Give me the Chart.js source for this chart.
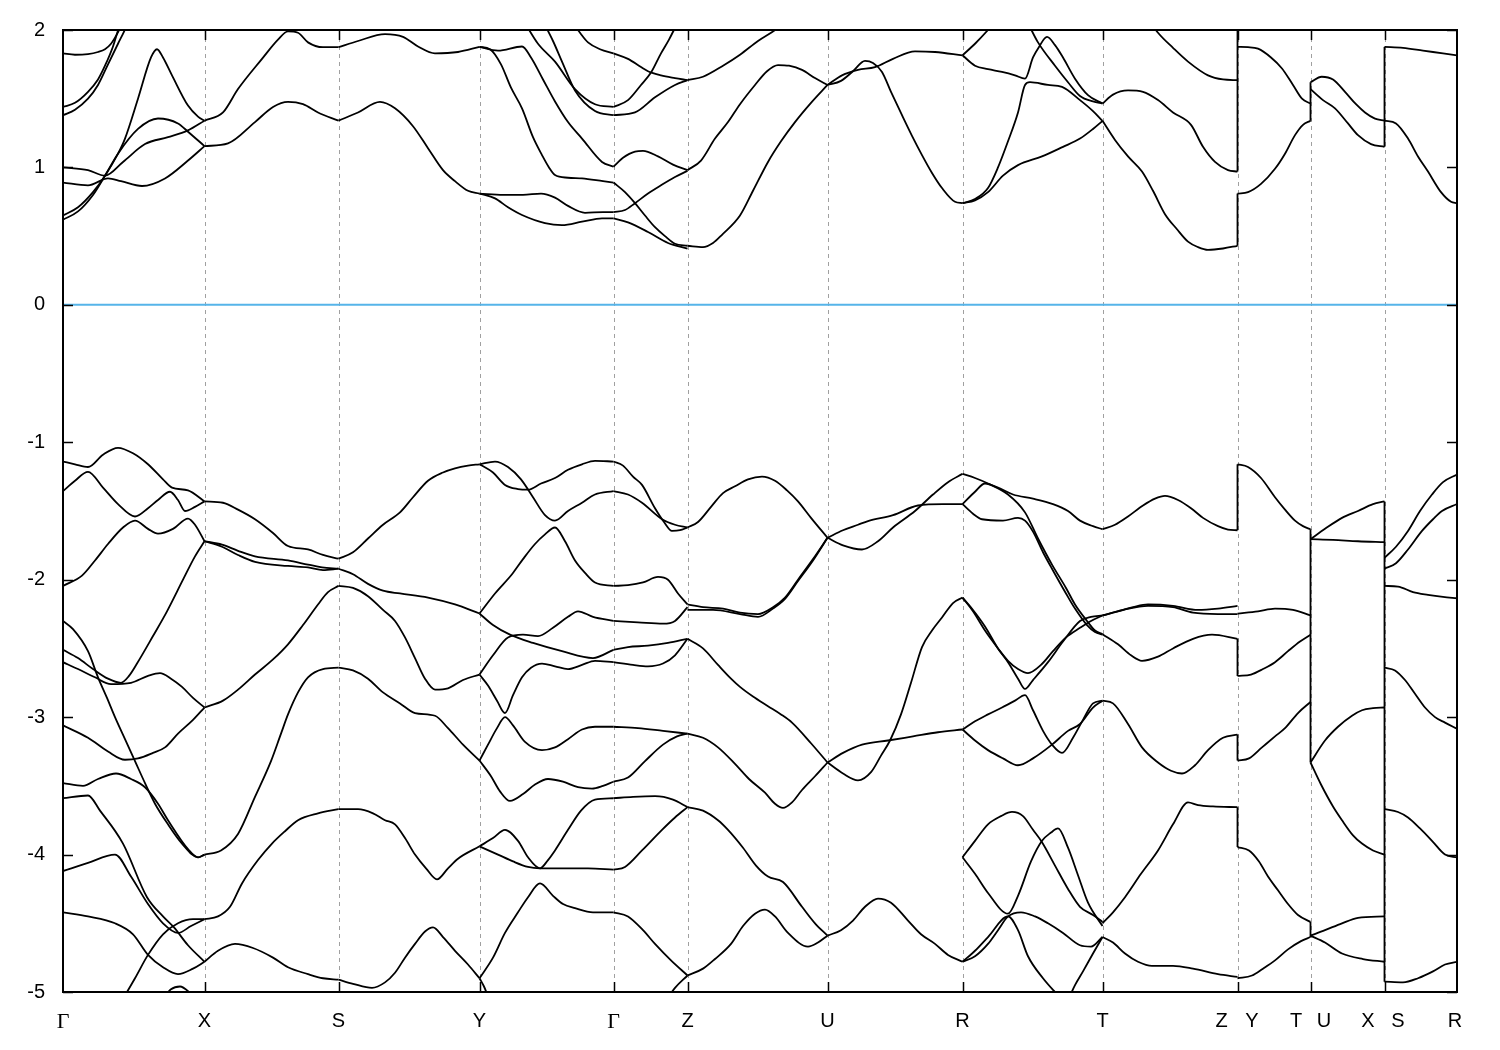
<!DOCTYPE html>
<html>
<head>
<meta charset="utf-8">
<title>Band structure</title>
<script src="https://cdn.jsdelivr.net/npm/chart.js@4.4.1/dist/chart.umd.min.js"></script>
<style>
  html, body { margin: 0; padding: 0; background: #fff; }
  canvas { display: block; }
</style>
</head>
<body>
<canvas id="bands" width="1500" height="1050"></canvas>
<script>
// high-symmetry points along the k-path (path length units)
const kPoints = [0, 141.5, 275.5, 416.5, 550.5, 624.5, 764.5, 899.5, 1039.5, 1174.5, 1247.5, 1321.5, 1394];
// tick labels; the labels at the jumps Z|Y, T|U, X|S sit either side of the line
const labelPos  = [0, 141.5, 275.5, 416.5, 550.5, 624.5, 764.5, 899.5, 1039.5, 1158.5, 1189, 1233, 1261, 1305, 1335, 1392];
const labelText = ['Γ', 'X', 'S', 'Y', 'Γ', 'Z', 'U', 'R', 'T', 'Z', 'Y', 'T', 'U', 'X', 'S', 'R'];
const energyTicks = [2, 1, 0, -1, -2, -3, -4, -5];
const fermiLevel = 0;

// ---- conduction bands, one list of [k, E] curves per path segment ----
const cbGX = [
  [[0,1.83],[12,1.82],[25,1.825],[35,1.84],[42,1.86],[48,1.9],[54,1.97],[60,2.06]],
  [[0,1.44],[12,1.47],[25,1.55],[35,1.64],[42,1.74],[50,1.88],[56,2.02],[60,2.1]],
  [[0,1.38],[12,1.42],[25,1.5],[35,1.6],[45,1.75],[55,1.9],[63,2.02],[67,2.1]],
  [[0,1.0],[25,0.98],[42,0.94],[60,1.04],[82,1.17],[105,1.22],[125,1.27],[141.5,1.34]],
  [[0,0.89],[25,0.87],[45,0.92],[58,0.9],[79,0.865],[102,0.92],[125,1.05],[141.5,1.155]],
  [[0,0.65],[15,0.71],[30,0.82],[42,0.94],[55,1.1],[62,1.21],[75,1.5],[88,1.8],[94,1.86],[100,1.8],[109,1.67],[125,1.45],[135,1.37],[141.5,1.34]],
  [[0,0.62],[15,0.68],[30,0.8],[42,0.94],[55,1.1],[75,1.28],[95,1.356],[115,1.32],[125,1.26],[141.5,1.155]]
];
const cbXS = [
  [[141.5,1.34],[160,1.4],[175,1.57],[199,1.79],[215,1.93],[225,1.99],[235,1.98],[245,1.91],[260,1.875],[275.5,1.875]],
  [[141.5,1.155],[165,1.175],[192,1.33],[210,1.44],[225,1.477],[240,1.46],[255,1.4],[275.5,1.34]]
];
const cbSY = [
  [[275.5,1.875],[295,1.92],[322,1.97],[340,1.95],[355,1.88],[372,1.83],[395,1.84],[416.5,1.877]],
  [[275.5,1.34],[295,1.4],[317,1.477],[332,1.43],[350,1.3],[365,1.14],[380,0.98],[392,0.9],[405,0.83],[416.5,0.81]]
];
const cbYG = [
  [[462,2.05],[475,1.9],[492,1.77],[512,1.57],[532,1.46],[550.5,1.44]],
  [[481,2.05],[490,1.92],[499,1.77],[512,1.56],[532,1.41],[550.5,1.38]],
  [[416.5,1.877],[435,1.85],[459,1.88],[468,1.8],[480,1.64],[492,1.48],[505,1.33],[519,1.21],[539,1.04],[550.5,1.005]],
  [[510,2.05],[517,1.98],[525,1.91],[537,1.86],[550.5,1.83]],
  [[416.5,1.877],[427,1.86],[438,1.75],[448,1.58],[459,1.43],[470,1.22],[479,1.09],[486,1.0],[492,0.945],[505,0.925],[519,0.92],[540,0.9],[550.5,0.89]],
  [[416.5,0.81],[440,0.8],[460,0.8],[478,0.81],[492,0.78],[505,0.72],[522,0.67],[540,0.675],[550.5,0.675]],
  [[416.5,0.81],[432,0.775],[445,0.71],[459,0.654],[482,0.595],[499,0.58],[519,0.605],[539,0.63],[550.5,0.63]]
];
const cbGZ = [
  [[550.5,1.83],[565,1.79],[578,1.73],[585,1.7],[598,1.67],[612,1.65],[624.5,1.635]],
  [[550.5,1.44],[565,1.49],[578,1.6],[588,1.69],[598,1.83],[606,1.93],[613,2.03]],
  [[550.5,1.38],[572,1.4],[592,1.51],[612,1.6],[624.5,1.635]],
  [[550.5,1.005],[560,1.07],[572,1.115],[580,1.12],[595,1.08],[610,1.02],[624.5,0.98]],
  [[550.5,0.89],[562,0.82],[572,0.74],[582,0.65],[592,0.565],[602,0.5],[612,0.445],[624.5,0.43]],
  [[550.5,0.675],[562,0.69],[572,0.74],[585,0.81],[598,0.87],[612,0.93],[624.5,0.975]],
  [[550.5,0.63],[565,0.6],[585,0.53],[605,0.45],[624.5,0.41]]
];
const cbZU = [
  [[624.5,1.635],[640,1.66],[660,1.74],[677,1.82],[695,1.92],[714,2.01],[720,2.05]],
  [[624.5,0.98],[638,1.05],[652,1.21],[665,1.33],[677,1.46],[692,1.6],[704,1.7],[715,1.745],[726,1.74],[739,1.71],[752,1.65],[764.5,1.6]],
  [[624.5,0.43],[640,0.42],[650,0.45],[659,0.51],[677,0.65],[690,0.83],[705,1.04],[718,1.19],[732,1.33],[748,1.47],[764.5,1.6]]
];
const cbUR = [
  [[764.5,1.6],[778,1.63],[790,1.7],[802,1.775],[810,1.76],[819,1.695],[828,1.55],[839,1.38],[849,1.23],[859,1.09],[869,0.96],[879,0.85],[892,0.75],[899.5,0.74]],
  [[764.5,1.6],[779,1.67],[795,1.71],[812,1.73],[830,1.79],[852,1.845],[872,1.84],[899.5,1.815]]
];
const cbRT = [
  [[899.5,1.816],[912,1.9],[925,2.0],[932,2.06]],
  [[899.5,1.816],[912,1.74],[925,1.715],[939,1.695],[952,1.67],[962,1.646],[970,1.8],[976,1.877],[984,1.95],[992,1.89],[1000,1.8],[1012,1.646],[1025,1.526],[1039.5,1.465]],
  [[965,2.05],[975,1.91],[992,1.74],[1005,1.62],[1017,1.52],[1030,1.48],[1039.5,1.465]],
  [[899.5,0.74],[912,0.77],[925,0.85],[935,1.0],[945,1.19],[955,1.4],[962,1.6],[967,1.62],[985,1.6],[999,1.586],[1017,1.49],[1030,1.41],[1039.5,1.339]],
  [[899.5,0.74],[912,0.76],[925,0.82],[940,0.94],[955,1.017],[979,1.08],[1000,1.15],[1017,1.21],[1030,1.28],[1039.5,1.339]]
];
const cbTZ = [
  [[1039.5,1.465],[1050,1.53],[1065,1.56],[1080,1.55],[1095,1.49],[1110,1.4],[1128,1.31],[1140,1.15],[1152,1.04],[1165,0.98],[1174.5,0.97]],
  [[1039.5,1.339],[1052,1.2],[1065,1.08],[1079,0.97],[1090,0.83],[1102,0.66],[1114,0.55],[1125,0.46],[1135,0.42],[1145,0.4],[1160,0.41],[1174.5,0.43]],
  [[1088,2.05],[1095,1.98],[1110,1.87],[1125,1.77],[1145,1.67],[1160,1.64],[1174.5,1.635]]
];
const cbYT = [
  [[1174.5,1.877],[1185,1.875],[1195,1.864],[1208,1.8],[1219,1.72],[1230,1.6],[1239,1.5],[1247.5,1.465]],
  [[1174.5,0.81],[1185,0.82],[1198,0.88],[1212,0.99],[1222,1.1],[1232,1.235],[1240,1.31],[1247.5,1.339]]
];
const cbUX = [
  [[1247.5,1.62],[1258.7,1.66],[1270,1.64],[1282,1.55],[1293,1.46],[1302,1.4],[1312,1.355],[1321.5,1.34]],
  [[1247.5,1.57],[1260,1.49],[1272,1.43],[1285,1.32],[1295,1.235],[1308,1.17],[1321.5,1.15]]
];
const cbSR = [
  [[1321.5,1.877],[1340,1.87],[1360,1.85],[1380,1.83],[1394,1.816]],
  [[1321.5,1.34],[1333,1.32],[1345,1.21],[1355,1.08],[1365,0.97],[1378,0.82],[1388,0.75],[1394,0.74]]
];

// ---- valence bands ----
const vbGX = [
  [[0,-1.14],[12,-1.16],[25,-1.18],[40,-1.09],[55,-1.04],[70,-1.08],[85,-1.16],[100,-1.27],[109,-1.33],[125,-1.35],[141.5,-1.43]],
  [[0,-1.355],[12,-1.28],[25,-1.215],[40,-1.33],[55,-1.45],[72,-1.54],[85,-1.48],[95,-1.42],[107,-1.36],[115,-1.42],[122,-1.5],[132,-1.47],[141.5,-1.43]],
  [[0,-2.045],[19,-1.97],[32,-1.86],[45,-1.74],[60,-1.62],[72,-1.57],[85,-1.63],[95,-1.665],[110,-1.63],[125,-1.555],[132,-1.6],[141.5,-1.72]],
  [[0,-2.51],[15,-2.57],[30,-2.65],[45,-2.72],[58,-2.75],[66,-2.7],[74,-2.61],[90,-2.41],[104,-2.23],[120,-2.0],[132,-1.83],[141.5,-1.72]],
  [[0,-2.6],[15,-2.65],[32,-2.71],[48,-2.76],[68,-2.75],[85,-2.7],[97,-2.68],[108,-2.72],[119,-2.78],[130,-2.86],[141.5,-2.93]],
  [[0,-2.3],[10,-2.36],[25,-2.52],[35,-2.71],[44,-2.86],[52,-3.0],[62,-3.16],[72,-3.32],[82,-3.48],[92,-3.63],[105,-3.78],[119,-3.92],[135,-4.02],[141.5,-4.0]],
  [[0,-3.06],[25,-3.15],[45,-3.25],[62,-3.31],[75,-3.3],[90,-3.26],[102,-3.22],[115,-3.12],[130,-3.02],[141.5,-2.93]],
  [[0,-3.48],[20,-3.5],[35,-3.45],[53,-3.41],[68,-3.45],[82,-3.51],[95,-3.63],[105,-3.75],[125,-3.96],[135,-4.02],[141.5,-4.0]],
  [[0,-3.59],[25,-3.57],[37,-3.68],[60,-3.92],[84,-4.31],[100,-4.45],[111,-4.53],[125,-4.66],[141.5,-4.78]],
  [[0,-4.12],[25,-4.06],[52,-4.0],[68,-4.16],[85,-4.36],[100,-4.5],[115,-4.57],[128,-4.52],[141.5,-4.47]],
  [[0,-4.42],[25,-4.45],[52,-4.5],[70,-4.58],[85,-4.73],[100,-4.82],[115,-4.87],[130,-4.83],[141.5,-4.78]],
  [[60,-5.05],[72,-4.9],[85,-4.73],[100,-4.58],[115,-4.5],[130,-4.47],[141.5,-4.47]],
  [[100,-5.05],[108,-4.98],[117,-4.96],[126,-5.0],[132,-5.05]]
];
const vbXS = [
  [[141.5,-1.43],[160,-1.44],[175,-1.49],[192,-1.56],[210,-1.66],[225,-1.755],[245,-1.78],[260,-1.82],[275.5,-1.847]],
  [[141.5,-1.72],[159,-1.745],[175,-1.79],[192,-1.83],[225,-1.86],[245,-1.89],[259,-1.91],[275.5,-1.92]],
  [[141.5,-1.72],[159,-1.76],[175,-1.82],[192,-1.87],[225,-1.9],[245,-1.91],[260,-1.93],[275.5,-1.92]],
  [[141.5,-2.93],[160,-2.88],[175,-2.8],[192,-2.69],[210,-2.58],[225,-2.47],[240,-2.33],[255,-2.18],[265,-2.09],[275.5,-2.045]],
  [[141.5,-4.0],[158,-3.97],[175,-3.85],[192,-3.58],[208,-3.32],[218,-3.12],[225,-2.98],[235,-2.82],[245,-2.71],[260,-2.65],[275.5,-2.64]],
  [[141.5,-4.47],[155,-4.45],[167,-4.38],[179,-4.21],[195,-4.04],[209,-3.92],[222,-3.83],[235,-3.75],[255,-3.7],[275.5,-3.67]],
  [[141.5,-4.78],[155,-4.7],[172,-4.65],[190,-4.68],[210,-4.75],[225,-4.82],[245,-4.87],[260,-4.9],[275.5,-4.91]]
];
const vbSY = [
  [[275.5,-1.847],[290,-1.8],[305,-1.7],[320,-1.6],[337,-1.51],[350,-1.4],[365,-1.28],[380,-1.22],[392,-1.19],[405,-1.17],[416.5,-1.16]],
  [[275.5,-1.92],[290,-1.96],[305,-2.03],[320,-2.08],[337,-2.1],[365,-2.13],[392,-2.18],[416.5,-2.246]],
  [[275.5,-2.045],[290,-2.06],[305,-2.12],[320,-2.22],[332,-2.3],[342,-2.42],[352,-2.57],[362,-2.72],[372,-2.8],[385,-2.79],[400,-2.73],[416.5,-2.69]],
  [[275.5,-2.64],[290,-2.66],[305,-2.72],[320,-2.82],[337,-2.9],[352,-2.97],[372,-2.99],[385,-3.08],[400,-3.2],[416.5,-3.316]],
  [[275.5,-3.67],[295,-3.67],[310,-3.7],[322,-3.75],[332,-3.78],[342,-3.88],[352,-4.0],[363,-4.1],[374,-4.18],[385,-4.1],[395,-4.03],[416.5,-3.94]],
  [[275.5,-4.91],[290,-4.94],[309,-4.97],[322,-4.93],[332,-4.86],[342,-4.75],[352,-4.65],[362,-4.56],[370,-4.53],[380,-4.6],[392,-4.7],[405,-4.8],[416.5,-4.9]]
];
const vbYG = [
  [[416.5,-1.16],[432,-1.14],[445,-1.18],[458,-1.27],[470,-1.4],[482,-1.53],[492,-1.57],[505,-1.5],[519,-1.44],[532,-1.38],[550.5,-1.355]],
  [[416.5,-1.16],[430,-1.22],[442,-1.31],[455,-1.34],[465,-1.345],[478,-1.3],[492,-1.26],[505,-1.2],[519,-1.16],[532,-1.135],[550.5,-1.14]],
  [[416.5,-2.246],[432,-2.1],[449,-1.96],[460,-1.85],[472,-1.74],[482,-1.67],[492,-1.62],[502,-1.72],[512,-1.86],[522,-1.95],[532,-2.02],[550.5,-2.045]],
  [[416.5,-2.246],[430,-2.33],[447,-2.4],[470,-2.46],[499,-2.52],[530,-2.57],[550.5,-2.51]],
  [[416.5,-2.69],[430,-2.55],[445,-2.42],[460,-2.4],[475,-2.41],[490,-2.35],[505,-2.27],[515,-2.23],[530,-2.27],[550.5,-2.3]],
  [[416.5,-2.69],[425,-2.77],[434,-2.88],[442,-2.97],[450,-2.84],[459,-2.71],[468,-2.64],[479,-2.61],[492,-2.63],[505,-2.65],[519,-2.62],[532,-2.59],[550.5,-2.6]],
  [[416.5,-3.316],[425,-3.2],[434,-3.08],[442,-3.0],[450,-3.06],[462,-3.18],[479,-3.24],[492,-3.22],[505,-3.16],[519,-3.09],[532,-3.07],[550.5,-3.07]],
  [[416.5,-3.316],[428,-3.43],[437,-3.54],[447,-3.61],[460,-3.56],[472,-3.49],[485,-3.45],[500,-3.47],[515,-3.51],[529,-3.52],[540,-3.5],[550.5,-3.47]],
  [[416.5,-3.94],[430,-3.88],[442,-3.82],[455,-3.9],[465,-4.02],[477,-4.1],[485,-4.04],[492,-3.97],[505,-3.82],[518,-3.68],[532,-3.6],[550.5,-3.59]],
  [[416.5,-3.94],[435,-4.0],[450,-4.05],[465,-4.09],[477,-4.1],[500,-4.1],[525,-4.1],[550.5,-4.11]],
  [[416.5,-4.9],[430,-4.75],[442,-4.57],[455,-4.42],[465,-4.31],[477,-4.21],[490,-4.3],[500,-4.36],[512,-4.39],[530,-4.42],[550.5,-4.42]],
  [[416.5,-4.9],[421,-4.96],[426,-5.05]]
];
const vbGZ = [
  [[550.5,-1.14],[560,-1.17],[570,-1.25],[579,-1.31],[592,-1.48],[601,-1.58],[609,-1.645],[617,-1.64],[624.5,-1.62]],
  [[550.5,-1.355],[565,-1.38],[579,-1.44],[599,-1.56],[612,-1.6],[624.5,-1.62]],
  [[550.5,-2.045],[565,-2.04],[580,-2.02],[595,-1.98],[605,-2.0],[615,-2.1],[624.5,-2.18]],
  [[550.5,-2.3],[575,-2.31],[600,-2.32],[612,-2.3],[624.5,-2.2]],
  [[550.5,-2.51],[565,-2.49],[585,-2.48],[605,-2.46],[624.5,-2.43]],
  [[550.5,-2.6],[570,-2.62],[585,-2.63],[600,-2.61],[612,-2.55],[624.5,-2.43]],
  [[550.5,-3.07],[575,-3.08],[600,-3.1],[624.5,-3.12]],
  [[550.5,-3.47],[565,-3.44],[582,-3.32],[600,-3.2],[614,-3.14],[624.5,-3.12]],
  [[550.5,-3.59],[570,-3.58],[592,-3.575],[610,-3.6],[624.5,-3.655]],
  [[550.5,-4.11],[562,-4.09],[579,-3.97],[599,-3.82],[612,-3.73],[624.5,-3.655]],
  [[550.5,-4.42],[565,-4.45],[580,-4.55],[592,-4.65],[608,-4.77],[624.5,-4.88]],
  [[604,-5.05],[612,-4.97],[624.5,-4.88]]
];
const vbZU = [
  [[624.5,-1.62],[635,-1.58],[648,-1.47],[660,-1.37],[672,-1.32],[685,-1.27],[699,-1.25],[712,-1.28],[724,-1.35],[735,-1.43],[748,-1.55],[764.5,-1.695]],
  [[624.5,-2.18],[640,-2.2],[660,-2.21],[677,-2.24],[695,-2.25],[710,-2.2],[722,-2.13],[735,-2.0],[750,-1.85],[764.5,-1.695]],
  [[624.5,-2.22],[650,-2.22],[677,-2.25],[695,-2.27],[710,-2.21],[722,-2.14],[735,-2.01],[750,-1.86],[764.5,-1.695]],
  [[624.5,-2.43],[640,-2.5],[655,-2.62],[668,-2.72],[677,-2.78],[690,-2.85],[705,-2.92],[718,-2.98],[729,-3.04],[748,-3.19],[764.5,-3.33]],
  [[624.5,-3.12],[640,-3.15],[655,-3.22],[672,-3.34],[686,-3.45],[702,-3.55],[712,-3.63],[720,-3.66],[729,-3.62],[739,-3.53],[752,-3.43],[764.5,-3.33]],
  [[624.5,-3.655],[640,-3.68],[655,-3.75],[665,-3.82],[680,-3.95],[693,-4.08],[705,-4.16],[720,-4.2],[739,-4.38],[752,-4.5],[764.5,-4.59]],
  [[624.5,-4.88],[640,-4.83],[652,-4.76],[668,-4.65],[680,-4.52],[692,-4.43],[702,-4.4],[712,-4.45],[725,-4.57],[745,-4.67],[755,-4.64],[764.5,-4.59]]
];
const vbUR = [
  [[764.5,-1.695],[780,-1.64],[795,-1.6],[805,-1.573],[830,-1.53],[855,-1.46],[880,-1.45],[899.5,-1.45]],
  [[764.5,-1.695],[780,-1.75],[799,-1.78],[815,-1.72],[830,-1.62],[852,-1.5],[870,-1.38],[885,-1.29],[899.5,-1.23]],
  [[764.5,-3.33],[780,-3.26],[799,-3.2],[825,-3.17],[850,-3.14],[875,-3.11],[899.5,-3.09]],
  [[764.5,-3.33],[780,-3.41],[795,-3.46],[808,-3.4],[818,-3.28],[827,-3.17],[838,-2.98],[848,-2.75],[859,-2.49],[869,-2.37],[879,-2.275],[890,-2.17],[899.5,-2.13]],
  [[764.5,-4.59],[778,-4.55],[790,-4.48],[802,-4.38],[815,-4.32],[828,-4.35],[845,-4.48],[858,-4.58],[872,-4.65],[885,-4.73],[899.5,-4.78]]
];
const vbRT = [
  [[899.5,-1.23],[912,-1.26],[925,-1.3],[945,-1.38],[962,-1.51],[975,-1.7],[989,-1.89],[1003,-2.06],[1012,-2.18],[1024,-2.3],[1032,-2.37],[1039.5,-2.396]],
  [[899.5,-1.45],[910,-1.52],[919,-1.56],[940,-1.57],[955,-1.55],[962,-1.57],[970,-1.65],[980,-1.8],[989,-1.92],[1003,-2.1],[1012,-2.21],[1024,-2.33],[1032,-2.38],[1039.5,-2.4]],
  [[899.5,-1.45],[912,-1.36],[922,-1.3],[935,-1.33],[950,-1.38],[970,-1.41],[990,-1.45],[1005,-1.5],[1017,-1.57],[1030,-1.61],[1039.5,-1.633]],
  [[899.5,-2.13],[910,-2.23],[922,-2.37],[935,-2.5],[945,-2.59],[955,-2.65],[965,-2.68],[978,-2.62],[990,-2.52],[1003,-2.42],[1017,-2.35],[1028,-2.3],[1039.5,-2.26]],
  [[899.5,-2.13],[910,-2.22],[922,-2.34],[935,-2.5],[945,-2.6],[955,-2.72],[962,-2.795],[970,-2.73],[985,-2.6],[1000,-2.45],[1017,-2.3],[1028,-2.27],[1039.5,-2.26]],
  [[899.5,-3.09],[912,-3.03],[925,-2.98],[939,-2.93],[952,-2.88],[962,-2.84],[970,-2.95],[980,-3.1],[989,-3.2],[999,-3.26],[1010,-3.15],[1020,-3.02],[1030,-2.9],[1039.5,-2.88]],
  [[899.5,-3.09],[912,-3.17],[925,-3.24],[940,-3.3],[955,-3.35],[970,-3.3],[989,-3.2],[1005,-3.1],[1017,-3.05],[1030,-2.93],[1039.5,-2.88]],
  [[899.5,-4.02],[912,-3.9],[925,-3.78],[938,-3.72],[949,-3.69],[960,-3.72],[970,-3.82],[979,-3.91],[992,-4.08],[1005,-4.25],[1017,-4.38],[1030,-4.44],[1039.5,-4.49]],
  [[899.5,-4.02],[912,-4.14],[925,-4.28],[945,-4.43],[955,-4.3],[968,-4.05],[979,-3.9],[988,-3.84],[995,-3.81],[1005,-3.95],[1015,-4.15],[1025,-4.35],[1039.5,-4.52]],
  [[899.5,-4.78],[912,-4.74],[925,-4.65],[935,-4.55],[945,-4.45],[958,-4.42],[972,-4.45],[985,-4.5],[1000,-4.57],[1017,-4.66],[1028,-4.67],[1039.5,-4.6]],
  [[899.5,-4.78],[912,-4.7],[925,-4.6],[945,-4.45],[955,-4.55],[965,-4.74],[980,-4.9],[992,-5.0],[1000,-5.06]],
  [[1005,-5.06],[1012,-4.95],[1020,-4.85],[1030,-4.72],[1039.5,-4.6]]
];
const vbTZ = [
  [[1039.5,-1.633],[1052,-1.6],[1065,-1.54],[1080,-1.46],[1092,-1.41],[1102,-1.39],[1115,-1.42],[1128,-1.48],[1140,-1.55],[1155,-1.61],[1165,-1.635],[1174.5,-1.64]],
  [[1039.5,-2.26],[1055,-2.23],[1070,-2.2],[1085,-2.18],[1110,-2.19],[1135,-2.22],[1155,-2.21],[1174.5,-2.19]],
  [[1039.5,-2.26],[1060,-2.22],[1085,-2.19],[1110,-2.2],[1130,-2.24],[1155,-2.25],[1174.5,-2.25]],
  [[1039.5,-2.396],[1055,-2.47],[1068,-2.55],[1079,-2.59],[1095,-2.56],[1110,-2.5],[1130,-2.43],[1149,-2.4],[1174.5,-2.43]],
  [[1039.5,-2.88],[1050,-2.9],[1065,-3.05],[1079,-3.22],[1095,-3.33],[1108,-3.39],[1119,-3.41],[1132,-3.35],[1145,-3.24],[1160,-3.15],[1174.5,-3.127]],
  [[1039.5,-4.5],[1050,-4.42],[1062,-4.31],[1078,-4.14],[1095,-3.97],[1110,-3.78],[1125,-3.62],[1135,-3.64],[1150,-3.65],[1174.5,-3.655]],
  [[1039.5,-4.6],[1050,-4.64],[1062,-4.72],[1075,-4.78],[1089,-4.81],[1110,-4.81],[1130,-4.83],[1155,-4.87],[1174.5,-4.89]]
];
const vbYT = [
  [[1174.5,-1.16],[1185,-1.18],[1198,-1.26],[1212,-1.4],[1222,-1.49],[1232,-1.57],[1240,-1.61],[1247.5,-1.633]],
  [[1174.5,-2.246],[1195,-2.23],[1212,-2.21],[1230,-2.22],[1247.5,-2.26]],
  [[1174.5,-2.7],[1188,-2.69],[1200,-2.65],[1212,-2.6],[1225,-2.52],[1237,-2.45],[1247.5,-2.4]],
  [[1174.5,-3.316],[1186,-3.3],[1199,-3.22],[1212,-3.14],[1222,-3.08],[1235,-2.97],[1247.5,-2.89]],
  [[1174.5,-3.945],[1186,-3.97],[1196,-4.05],[1205,-4.16],[1215,-4.26],[1225,-4.36],[1235,-4.44],[1247.5,-4.49]],
  [[1174.5,-4.9],[1189,-4.88],[1200,-4.83],[1212,-4.77],[1225,-4.69],[1238,-4.63],[1247.5,-4.6]]
];
const vbUX = [
  [[1247.5,-1.705],[1262,-1.63],[1279,-1.55],[1295,-1.5],[1310,-1.45],[1321.5,-1.43]],
  [[1247.5,-1.705],[1270,-1.71],[1295,-1.72],[1321.5,-1.726]],
  [[1247.5,-3.33],[1262,-3.17],[1275,-3.07],[1289,-2.99],[1299,-2.95],[1310,-2.935],[1321.5,-2.93]],
  [[1247.5,-3.33],[1258,-3.49],[1270,-3.65],[1279,-3.75],[1290,-3.86],[1299,-3.92],[1310,-3.97],[1321.5,-4.0]],
  [[1247.5,-4.59],[1262,-4.55],[1279,-4.5],[1295,-4.46],[1321.5,-4.45]],
  [[1247.5,-4.59],[1262,-4.64],[1279,-4.72],[1300,-4.76],[1321.5,-4.78]]
];
const vbSR = [
  [[1321.5,-1.84],[1333,-1.76],[1345,-1.645],[1357,-1.5],[1369,-1.38],[1380,-1.29],[1394,-1.235]],
  [[1321.5,-1.92],[1333,-1.88],[1345,-1.78],[1359,-1.645],[1370,-1.56],[1379,-1.5],[1394,-1.45]],
  [[1321.5,-2.045],[1335,-2.05],[1350,-2.09],[1365,-2.11],[1380,-2.125],[1394,-2.135]],
  [[1321.5,-2.64],[1332,-2.66],[1342,-2.73],[1352,-2.83],[1362,-2.93],[1372,-3.0],[1382,-3.04],[1394,-3.085]],
  [[1321.5,-3.67],[1335,-3.69],[1345,-3.73],[1357,-3.81],[1369,-3.9],[1382,-4.0],[1394,-4.02]],
  [[1321.5,-4.925],[1340,-4.93],[1355,-4.9],[1370,-4.85],[1382,-4.8],[1394,-4.78]]
];

// vertical jumps where the path is broken (E from, E to)
const jumpsZY = [[0.97, 2.1], [0.43, 0.81], [-1.64, -1.16], [-2.43, -2.7], [-3.127, -3.316], [-3.655, -3.945]];
const jumpsTU = [[1.339, 1.62], [-1.633, -3.33], [-4.49, -4.6]];
const jumpsXS = [[1.15, 1.877], [-1.43, -4.925]];

const segments = [cbGX, cbXS, cbSY, cbYG, cbGZ, cbZU, cbUR, cbRT, cbTZ, cbYT, cbUX, cbSR,
                  vbGX, vbXS, vbSY, vbYG, vbGZ, vbZU, vbUR, vbRT, vbTZ, vbYT, vbUX, vbSR];

const bandColor = '#000000';
const bandWidth = 1.8;
const datasets = [];

// Fermi level
datasets.push({
  data: [{ x: kPoints[0], y: fermiLevel }, { x: kPoints[kPoints.length - 1], y: fermiLevel }],
  borderColor: '#56b4e9',
  borderWidth: 2,
  tension: 0
});

segments.forEach(seg => {
  seg.forEach(curve => {
    datasets.push({
      data: curve.map(([x, y]) => ({ x, y })),
      borderColor: bandColor,
      borderWidth: bandWidth,
      cubicInterpolationMode: 'monotone'
    });
  });
});

[[kPoints[9], jumpsZY], [kPoints[10], jumpsTU], [kPoints[11], jumpsXS]].forEach(([k, list]) => {
  list.forEach(([a, b]) => {
    datasets.push({
      data: [{ x: k, y: a }, { x: k, y: b }],
      borderColor: bandColor,
      borderWidth: bandWidth,
      tension: 0
    });
  });
});

// dashed lines at the symmetry points, gnuplot style frame and inward ticks
const framePlugin = {
  id: 'frame',
  beforeDatasetsDraw(chart) {
    const { ctx, chartArea: a, scales: { x } } = chart;
    ctx.save();
    ctx.strokeStyle = '#a0a0a0';
    ctx.lineWidth = 1;
    ctx.setLineDash([4, 4]);
    kPoints.slice(1, -1).forEach(k => {
      const px = Math.round(x.getPixelForValue(k)) + 0.5;
      ctx.beginPath();
      ctx.moveTo(px, a.top);
      ctx.lineTo(px, a.bottom);
      ctx.stroke();
    });
    ctx.restore();
  },
  afterDatasetsDraw(chart) {
    const { ctx, chartArea: a, scales: { x, y } } = chart;
    const len = 10;
    ctx.save();
    ctx.strokeStyle = '#000';
    ctx.lineWidth = 1.5;
    kPoints.slice(1, -1).forEach(k => {
      const px = Math.round(x.getPixelForValue(k)) + 0.5;
      ctx.beginPath();
      ctx.moveTo(px, a.top);
      ctx.lineTo(px, a.top + len);
      ctx.moveTo(px, a.bottom);
      ctx.lineTo(px, a.bottom - len);
      ctx.stroke();
    });
    energyTicks.forEach(e => {
      const py = Math.round(y.getPixelForValue(e)) + 0.5;
      ctx.beginPath();
      ctx.moveTo(a.left, py);
      ctx.lineTo(a.left + len, py);
      ctx.moveTo(a.right, py);
      ctx.lineTo(a.right - len, py);
      ctx.stroke();
    });
    ctx.lineWidth = 2;
    ctx.strokeRect(a.left, a.top, a.right - a.left, a.bottom - a.top);
    ctx.restore();
  }
};

const sansFont = { family: "'Liberation Sans', Arial, sans-serif", size: 20 };
const serifFont = { family: "'Liberation Serif', 'Times New Roman', serif", size: 22 };

new Chart(document.getElementById('bands'), {
  type: 'line',
  data: { datasets },
  options: {
    responsive: false,
    animation: false,
    events: [],
    layout: { padding: { left: 0, right: 43, top: 28, bottom: 0 } },
    elements: { point: { radius: 0 } },
    plugins: {
      legend: { display: false },
      tooltip: { enabled: false }
    },
    scales: {
      x: {
        type: 'linear',
        min: kPoints[0],
        max: kPoints[kPoints.length - 1],
        grid: { display: false, drawTicks: false },
        border: { display: false },
        afterBuildTicks: scale => { scale.ticks = labelPos.map(v => ({ value: v })); },
        afterFit: scale => { scale.height = 58; },
        ticks: {
          autoSkip: false,
          maxRotation: 0,
          padding: 17,
          color: '#000',
          font: c => (labelText[c.index] === 'Γ' ? serifFont : sansFont),
          callback: (value, index) => labelText[index]
        }
      },
      y: {
        type: 'linear',
        min: energyTicks[energyTicks.length - 1],
        max: energyTicks[0],
        grid: { display: false, drawTicks: false },
        border: { display: false },
        afterFit: scale => { scale.width = 63; },
        ticks: {
          stepSize: 1,
          padding: 18,
          color: '#000',
          font: sansFont
        }
      }
    }
  },
  plugins: [framePlugin]
});
</script>
</body>
</html>
